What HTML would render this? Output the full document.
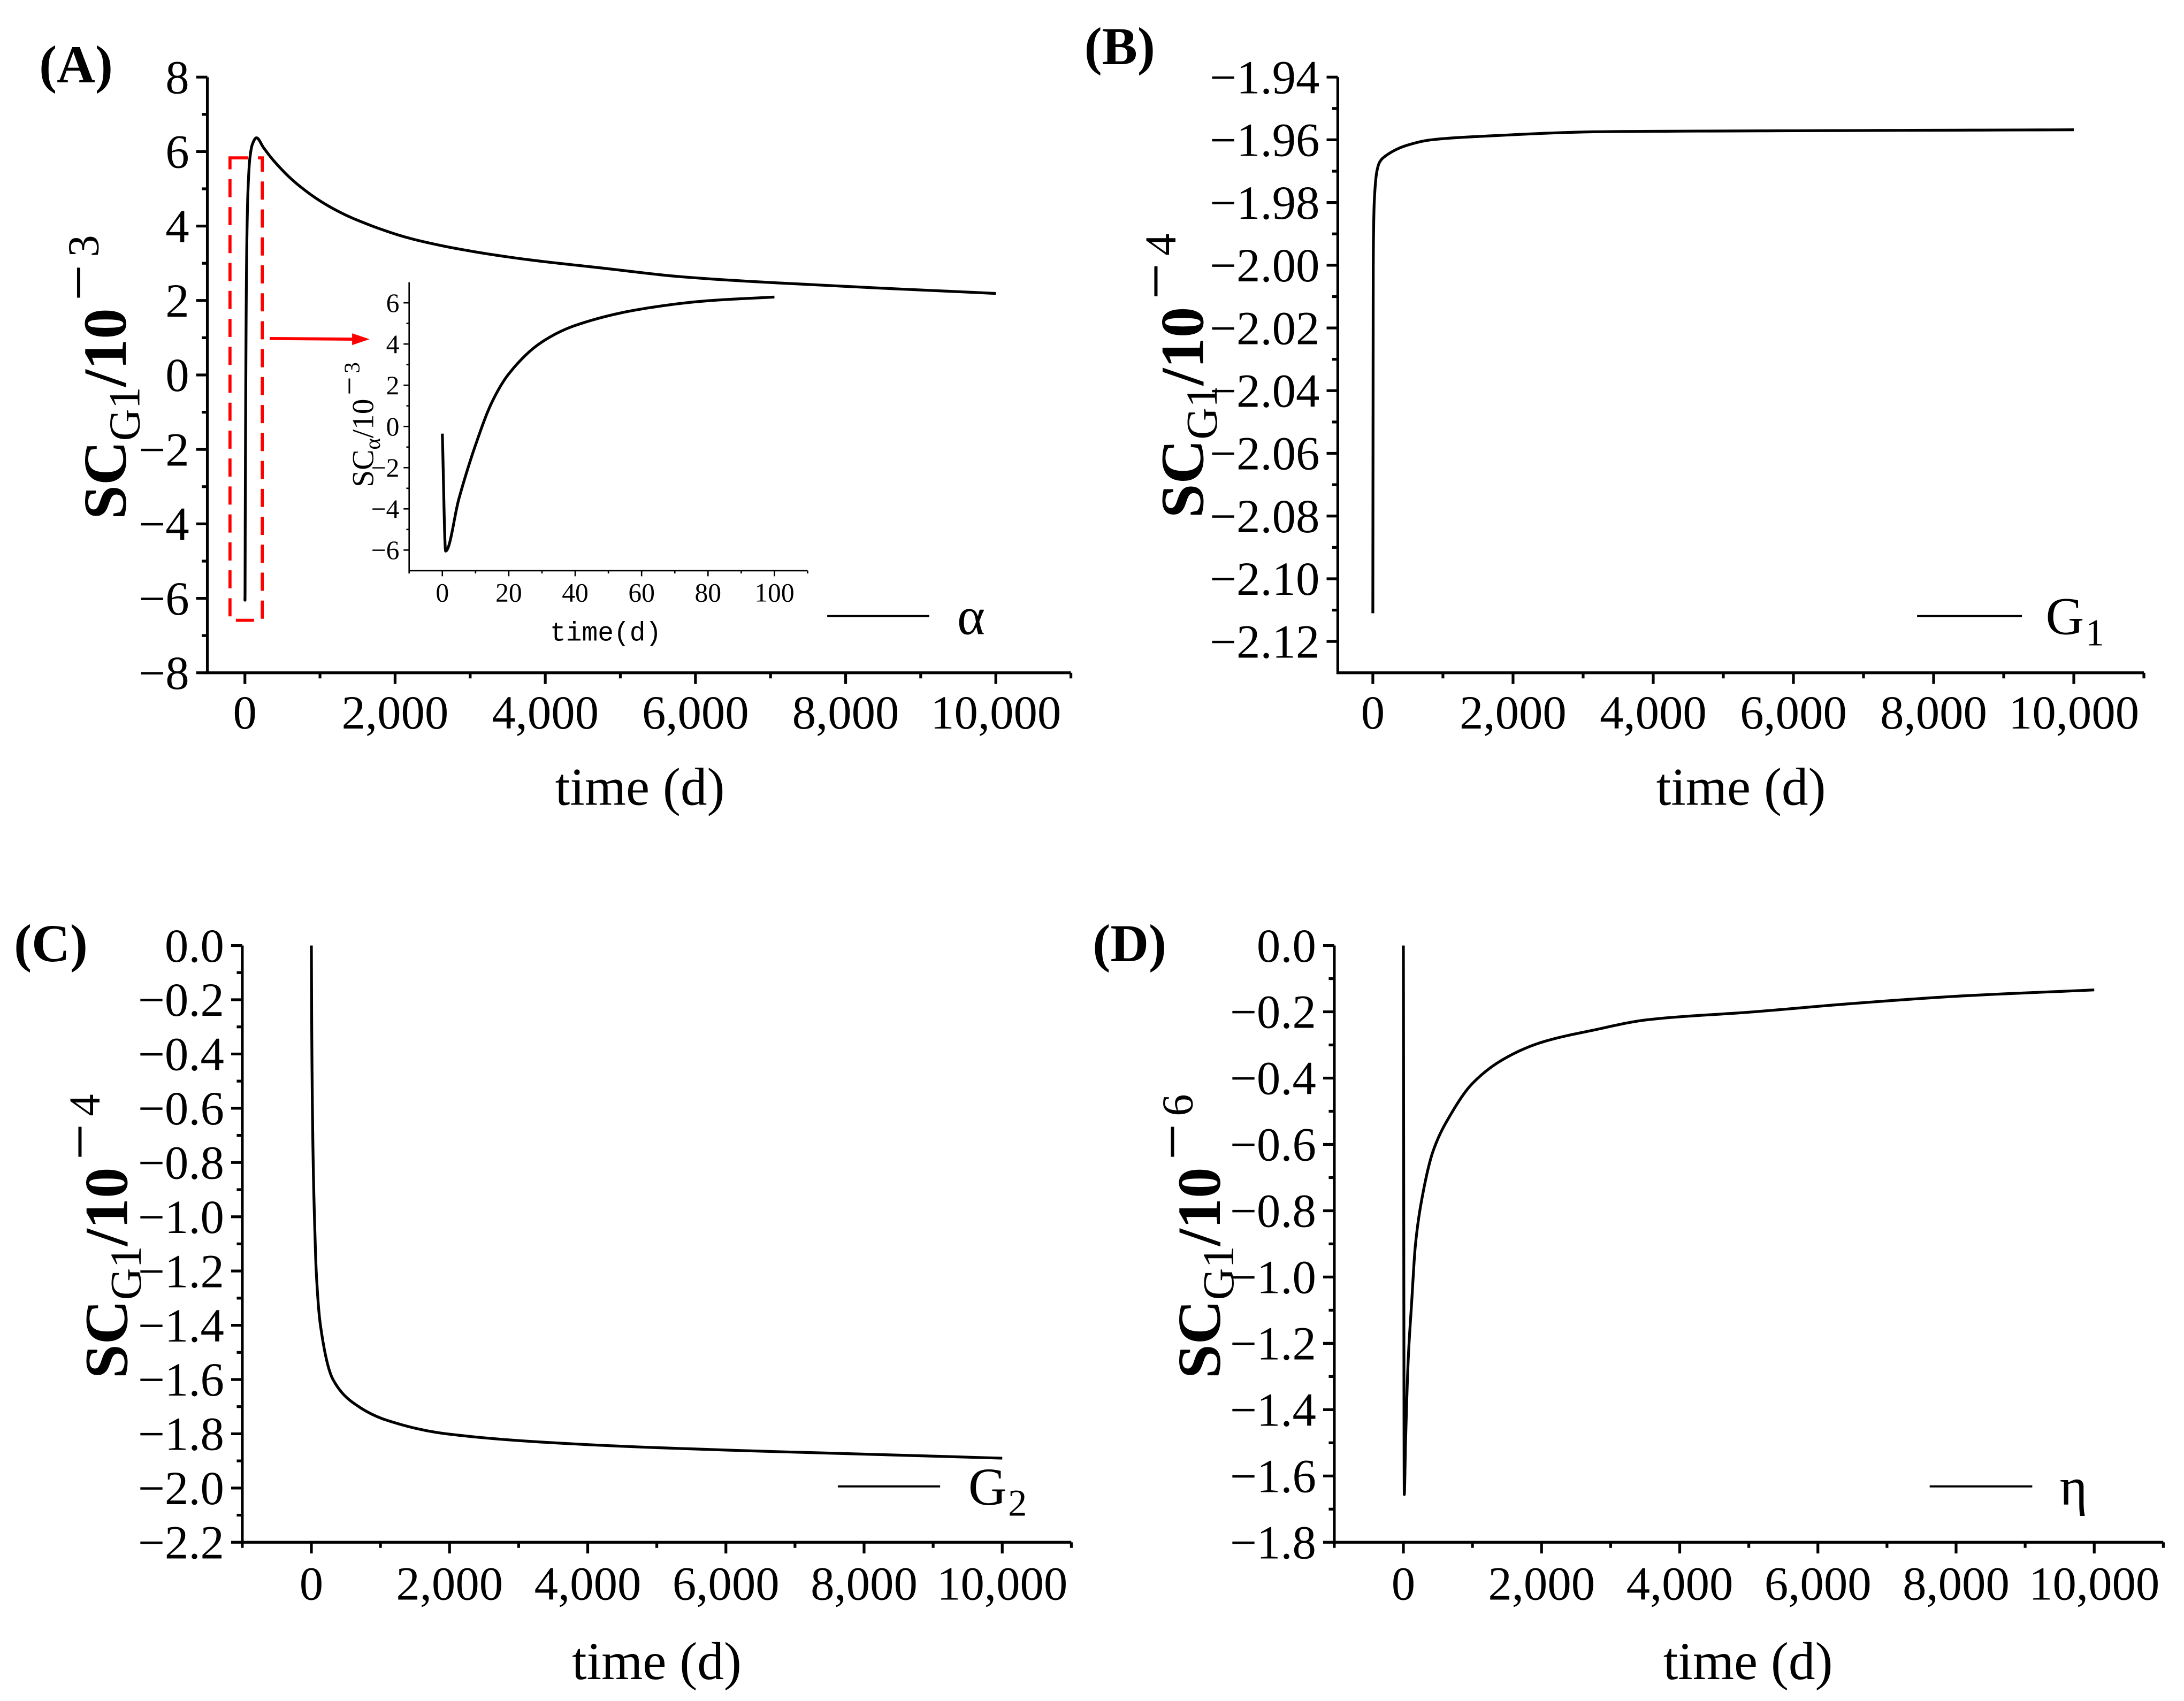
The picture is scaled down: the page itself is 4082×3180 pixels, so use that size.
<!DOCTYPE html>
<html><head><meta charset="utf-8"><style>
html,body{margin:0;padding:0;background:#fff;}
svg{display:block;}
text{font-family:"Liberation Serif",serif;fill:#000;}
</style></head><body>
<svg id="fig" width="4082" height="3180" viewBox="0 0 1563 1217.6" xmlns="http://www.w3.org/2000/svg">
<rect width="1563" height="1217.6" fill="#fff"/>
</svg>
<script>
// ---- data ----
const aTime = [0, 1, 5, 11, 20, 30, 40, 65, 100, 154, 250, 390, 677, 1086, 1495, 2314, 3540, 4765, 5860, 8000, 10000];
const aValue = [-6.0, -6.05, -3.5, -0.5, 2.55, 4.1, 4.9, 5.8, 6.2, 6.37, 6.1, 5.74, 5.16, 4.57, 4.16, 3.61, 3.16, 2.87, 2.63, 2.38, 2.19];
const insetTime = [0, 1, 5, 10, 15, 20, 30, 40, 60, 80, 100];
const insetValue = [-0.35, -6.05, -3.5, -0.9, 1.2, 2.55, 4.1, 4.9, 5.7, 6.1, 6.28];
const bTime = [0, 3, 6, 10, 20, 58, 100, 190, 453, 834, 1623, 3284, 6000, 10000];
const bValue = [-2.111, -2.05, -2.0, -1.99, -1.98, -1.97, -1.967, -1.965, -1.962, -1.96, -1.9588, -1.9574, -1.9571, -1.9568];
const cTime = [0, 5, 15, 30, 50, 70, 131, 313, 686, 1090, 1950, 4000, 6000, 8000, 10000];
const cValue = [0, -0.3, -0.6, -0.85, -1.05, -1.2, -1.4, -1.6, -1.7, -1.75, -1.8, -1.84, -1.86, -1.875, -1.89];
const dTime = [0, 13, 31, 70, 120, 174, 276, 432, 690, 1000, 1465, 2000, 2757, 3532, 5075, 6500, 8100, 10000];
const dValue = [0, -1.656, -1.5, -1.25, -1.076, -0.904, -0.755, -0.619, -0.508, -0.416, -0.341, -0.292, -0.255, -0.224, -0.2, -0.175, -0.152, -0.134];
const xTicksMain = [0, 2000, 4000, 6000, 8000, 10000];
const xTickLabelsMain = ["0", "2,000", "4,000", "6,000", "8,000", "10,000"];
const aYTicks = [8, 6, 4, 2, 0, -2, -4, -6, -8];
const bYTicks = [-1.94, -1.96, -1.98, -2.00, -2.02, -2.04, -2.06, -2.08, -2.10, -2.12];
const cYTicks = [0, -0.2, -0.4, -0.6, -0.8, -1.0, -1.2, -1.4, -1.6, -1.8, -2.0, -2.2];
const dYTicks = [0, -0.2, -0.4, -0.6, -0.8, -1.0, -1.2, -1.4, -1.6, -1.8];
const insetXTicks = [0, 20, 40, 60, 80, 100];
const insetYTicks = [6, 4, 2, 0, -2, -4, -6];

const NS = "http://www.w3.org/2000/svg";
const svg = document.getElementById("fig");
function mk(tag, attrs, parent) {
  const e = document.createElementNS(NS, tag);
  for (const k in attrs) e.setAttribute(k, attrs[k]);
  (parent || svg).appendChild(e);
  return e;
}
function fmt(v, d) {
  const s = Math.abs(v).toFixed(d);
  return (v < 0 && Math.abs(v) > 1e-9 ? "\u2212" : "") + s;
}
function monotone(xs, ys, n) {
  const k = xs.length, d = [], m = [];
  for (let i = 0; i < k - 1; i++) d.push((ys[i+1] - ys[i]) / (xs[i+1] - xs[i]));
  m[0] = d[0]; m[k-1] = d[k-2];
  for (let i = 1; i < k - 1; i++) {
    if (d[i-1] * d[i] <= 0) m[i] = 0;
    else {
      const h0 = xs[i] - xs[i-1], h1 = xs[i+1] - xs[i];
      const w1 = 2*h1 + h0, w2 = h1 + 2*h0;
      m[i] = (w1 + w2) / (w1 / d[i-1] + w2 / d[i]);
    }
  }
  const out = [];
  for (let i = 0; i < k - 1; i++) {
    const h = xs[i+1] - xs[i];
    for (let j = 0; j < n; j++) {
      const t = j / n, t2 = t*t, t3 = t2*t;
      const y = (2*t3 - 3*t2 + 1)*ys[i] + (t3 - 2*t2 + t)*h*m[i] + (-2*t3 + 3*t2)*ys[i+1] + (t3 - t2)*h*m[i+1];
      out.push([xs[i] + t*h, y]);
    }
  }
  out.push([xs[k-1], ys[k-1]]);
  return out;
}

function panel(cfg) {
  const g = mk("g", {});
  
  
  const sx = v => cfg.x0 + (v - cfg.xmin) / (cfg.xmax - cfg.xmin) * (cfg.x1 - cfg.x0);
  const sy = v => cfg.y1 - (v - cfg.ymin) / (cfg.ymax - cfg.ymin) * (cfg.y1 - cfg.y0);
  const fs = cfg.fs, lw = cfg.lw;
  const ax = mk("path", {d:`M${cfg.x0},${cfg.y0} L${cfg.x0},${cfg.y1} L${cfg.x1},${cfg.y1}`, fill:"none", stroke:"#000", "stroke-width":lw}, g);
  
  
  cfg.yTicks.forEach((v, i) => {
    const y = sy(v);
    mk("line", {x1:cfg.x0 - cfg.tl, x2:cfg.x0, y1:y, y2:y, stroke:"#000", "stroke-width":lw}, g);
    const t = mk("text", {x:cfg.x0 - cfg.tl - cfg.gap, y:y + fs*0.34, "font-size":fs, "text-anchor":"end"}, g);
    
    
    t.textContent = fmt(v, cfg.yd);
    if (i < cfg.yTicks.length - 1) {
      const ym = sy((v + cfg.yTicks[i+1]) / 2);
      mk("line", {x1:cfg.x0 - cfg.tl/2, x2:cfg.x0, y1:ym, y2:ym, stroke:"#000", "stroke-width":lw}, g);
    }
  });
  const half = (cfg.xTicks[1] - cfg.xTicks[0]) / 2;
  for (let v = Math.ceil(cfg.xmin / half - 1e-9) * half; v <= cfg.xmax + 1e-9; v += half) {
    const major = cfg.xTicks.some(t => Math.abs(t - v) < 1e-6);
    const x = sx(v);
    mk("line", {x1:x, x2:x, y1:cfg.y1, y2:cfg.y1 + (major ? cfg.tl : cfg.tl/2), stroke:"#000", "stroke-width":lw}, g);
  }
  cfg.xTicks.forEach((v, i) => {
    const t = mk("text", {x:sx(v), y:cfg.y1 + cfg.xlOff, "font-size":fs, "text-anchor":"middle"}, g);
    
    
    t.textContent = cfg.xLabels[i];
  });
  const pts = monotone(cfg.tx, cfg.ty, 12);
  let d = "";
  pts.forEach((p, i) => { d += (i ? " L" : "M") + sx(p[0]).toFixed(2) + "," + sy(p[1]).toFixed(2); });
  const p = mk("path", {d, fill:"none", stroke:"#000", "stroke-width":cfg.cw, "stroke-linejoin":"round"}, g);
  
  
  return g;
}

function yTitle(x, y, fs, sub, sup, g, boldMain) {
  const grp = mk("g", {transform:`translate(${x},${y}) rotate(-90)`}, g);
  
  
  const parts = [
    {s:"SC", size:fs, dy:0, bold:boldMain, gap:0},
    {s:sub, size:fs*0.72, dy:fs*0.22, bold:false, gap:0},
    {s:"/10", size:fs, dy:0, bold:boldMain, gap:0},
    {s:"\u2212", size:fs*1.05, dy:-fs*0.42, bold:false, gap:fs*0.12},
    {s:sup, size:fs*0.72, dy:-fs*0.45, bold:false, gap:fs*0.12}
  ];
  let cx = 0;
  const els = [];
  parts.forEach(p => {
    cx += p.gap;
    const t = mk("text", {x:cx, y:p.dy, "font-size":p.size, "font-weight":p.bold ? "bold" : "normal"}, grp);
    t.textContent = p.s;
    els.push(t);
    cx += t.getComputedTextLength();
  });
  els.forEach(t => t.setAttribute("x", parseFloat(t.getAttribute("x")) - cx/2));
  return grp;
}
function xTitle(x, y, fs, g) {
  const t = mk("text", {x, y, "font-size":fs, "text-anchor":"middle"}, g);
  
  
  t.textContent = "time (d)";
}
function panelLabel(x, y, s) {
  const t = mk("text", {x, y, "font-size":38, "font-weight":"bold"});
  
  
  t.textContent = s;
}
function legend(x1, x2, y, tx, label, sub, g) {
  const lg = mk("g", {}, g);
  
  
  mk("line", {x1, x2, y1:y, y2:y, stroke:"#000", "stroke-width":1.5}, lg);
  const t = mk("text", {x:tx, y:y + 13, "font-size":38}, lg);
  t.textContent = label;
  if (sub) {
    const w = t.getComputedTextLength();
    const b = mk("text", {x:tx + w + 1, y:y + 21, "font-size":27}, lg);
    b.textContent = sub;
  }
}

// Panel A
const gA = panel({name:"panel-a", x0:148.4, x1:766.4, y0:55.2, y1:481.6, xmin:-500, xmax:11000, ymin:-8, ymax:8,
  yTicks:aYTicks, yd:0, xTicks:xTicksMain, xLabels:xTickLabelsMain, tx:aTime, ty:aValue,
  fs:34, lw:2, tl:8, gap:5, xlOff:40, cw:2, seriesName:"alpha-curve"});
yTitle(90, 270, 44, "G1", "3", gA, true);
xTitle(458, 576, 38, gA);
legend(592, 665, 441, 685, "\u03b1", "", gA);
const box = mk("rect", {x:164.6, y:113, width:23.1, height:331, fill:"none", stroke:"#f00", "stroke-width":2.2, "stroke-dasharray":"13 7"}, gA);


const arr = mk("g", {}, gA);


mk("line", {x1:193, x2:254, y1:242.3, y2:242.8, stroke:"#f00", "stroke-width":2.2}, arr);
mk("path", {d:"M252,238.6 L264.5,242.8 L252,247 Z", fill:"#f00"}, arr);
// Inset
const gI = panel({name:"inset-panel", x0:292.8, x1:578, y0:202, y1:408.5, xmin:-10, xmax:110, ymin:-7, ymax:7,
  yTicks:insetYTicks, yd:0, xTicks:insetXTicks, xLabels:insetXTicks.map(String), tx:insetTime, ty:insetValue,
  fs:19, lw:1, tl:4, gap:3, xlOff:22, cw:2, seriesName:"inset-alpha-curve"});
const it = mk("text", {x:433.5, y:458.6, "font-size":19, "text-anchor":"middle", style:"font-family:'Liberation Mono',monospace"}, gI);


it.textContent = "time(d)";
yTitle(267, 304, 22, "\u03b1", "3", gI, false);

// Panel B
const gB = panel({name:"panel-b", x0:957.4, x1:1534.3, y0:55.2, y1:481.6, xmin:-500, xmax:11000, ymin:-2.13, ymax:-1.94,
  yTicks:bYTicks, yd:2, xTicks:xTicksMain, xLabels:xTickLabelsMain, tx:bTime, ty:bValue,
  fs:34, lw:2, tl:8, gap:5, xlOff:40, cw:2, seriesName:"g1-curve"});
yTitle(861, 269, 44, "G1", "4", gB, true);
xTitle(1246, 576, 38, gB);
legend(1372, 1447, 441, 1464, "G", "1", gB);

// Panel C
const gC = panel({name:"panel-c", x0:173.4, x1:766.7, y0:676.8, y1:1104, xmin:-1000, xmax:11000, ymin:-2.2, ymax:0,
  yTicks:cYTicks, yd:1, xTicks:xTicksMain, xLabels:xTickLabelsMain, tx:cTime, ty:cValue,
  fs:34, lw:2, tl:8, gap:5, xlOff:41, cw:2, seriesName:"g2-curve"});
yTitle(91, 885, 44, "G1", "4", gC, true);
xTitle(470, 1202, 38, gC);
legend(599.6, 672.8, 1064, 693, "G", "2", gC);

// Panel D
const gD = panel({name:"panel-d", x0:954.9, x1:1548.2, y0:676.8, y1:1104, xmin:-1000, xmax:11000, ymin:-1.8, ymax:0,
  yTicks:dYTicks, yd:1, xTicks:xTicksMain, xLabels:xTickLabelsMain, tx:dTime, ty:dValue,
  fs:34, lw:2, tl:8, gap:5, xlOff:41, cw:2, seriesName:"eta-curve"});
yTitle(873, 885, 44, "G1", "6", gD, true);
xTitle(1251, 1202, 38, gD);
legend(1381, 1454.4, 1064, 1474, "\u03b7", "", gD);

panelLabel(28, 59, "(A)");
panelLabel(776, 46, "(B)");
panelLabel(10, 688, "(C)");
panelLabel(782, 688, "(D)");
</script>
</body></html>
